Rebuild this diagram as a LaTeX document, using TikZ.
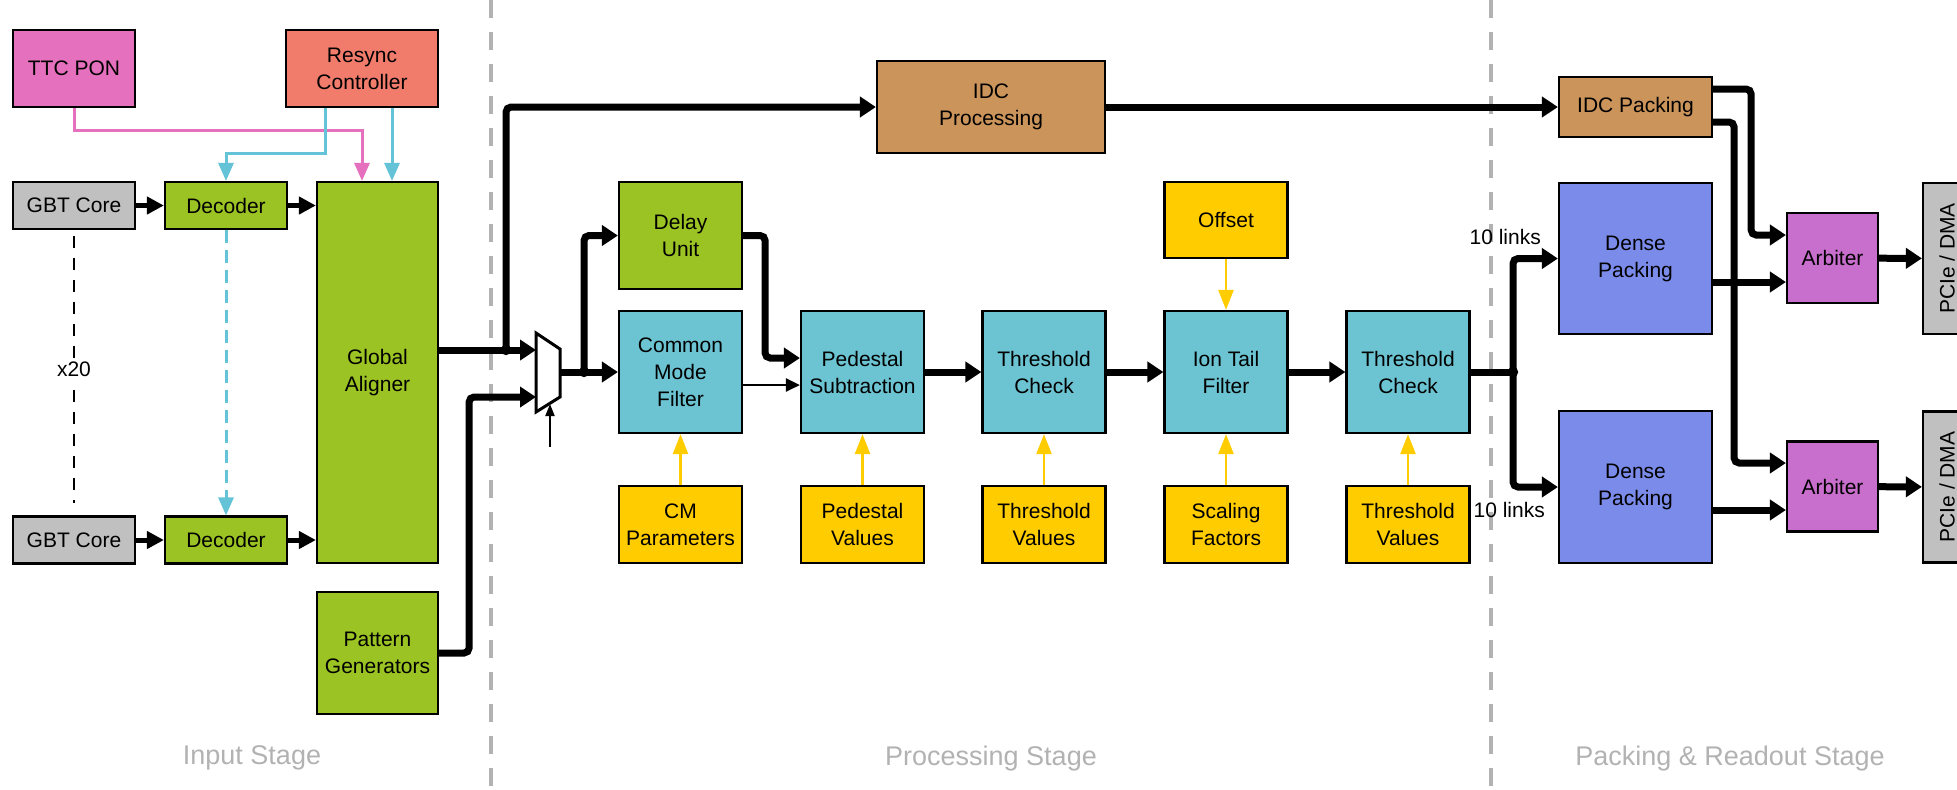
\documentclass[tikz,border=0pt]{standalone}
\usepackage{fontspec}
\setmainfont{Liberation Sans}
\usetikzlibrary{arrows.meta}
\usetikzlibrary{calc}

\definecolor{ttcpink}{RGB}{229,112,190}
\definecolor{syncred}{RGB}{242,124,108}
\definecolor{gbtgray}{RGB}{192,192,192}
\definecolor{fpgagreen}{RGB}{155,195,35}
\definecolor{proccyan}{RGB}{108,195,210}
\definecolor{idcbrown}{RGB}{203,148,90}
\definecolor{paryellow}{RGB}{255,204,0}
\definecolor{packblue}{RGB}{123,139,234}
\definecolor{arbviolet}{RGB}{200,110,205}
\definecolor{synccyan}{RGB}{100,195,215}
\definecolor{stagegray}{RGB}{178,178,178}

\newcommand{\boxfont}{\fontsize{10.5}{13.5}\selectfont}

\begin{document}
\begin{tikzpicture}[x=0.5pt,y=-0.5pt,
		blk/.style={draw=black, line width=1.1pt, inner sep=0pt, align=center, font=\boxfont},
		ttcbox/.style={blk, fill=ttcpink, minimum width=61pt, minimum height=38.5pt},
		syncbox/.style={blk, fill=syncred, minimum width=76pt, minimum height=38.5pt},
		gbtbox/.style={blk, fill=gbtgray, minimum width=61pt, minimum height=23.5pt},
		decbox/.style={blk, fill=fpgagreen, minimum width=61pt, minimum height=23.5pt},
		greenbox/.style={blk, fill=fpgagreen, minimum width=60.5pt},
		procbox/.style={blk, fill=proccyan, minimum width=61.5pt, minimum height=61pt},
		parbox/.style={blk, fill=paryellow, minimum width=61.5pt, minimum height=38.5pt},
		idcbox/.style={blk, fill=idcbrown},
		packbox/.style={blk, fill=packblue, minimum width=76.5pt, minimum height=76pt},
		arbbox/.style={blk, fill=arbviolet, minimum width=45.5pt, minimum height=45pt},
		pciebox/.style={blk, fill=gbtgray, minimum width=24pt, minimum height=75.5pt},
		bus/.style={line width=3.5pt, rounded corners=2.5pt, -{Triangle[length=8pt,width=10pt]}},
		link/.style={line width=2.5pt, -{Triangle[length=8.5pt,width=8.5pt]}},
		thinlink/.style={line width=1.25pt, -{Triangle[length=7pt,width=6.5pt]}},
		selarrow/.style={line width=1pt, -{Triangle[length=6pt,width=4.5pt]}},
		ttcline/.style={ttcpink, line width=1.5pt, -{Triangle[length=9pt,width=7.5pt]}},
		syncline/.style={synccyan, line width=1.5pt, -{Triangle[length=9pt,width=7.5pt]}},
		parline/.style={paryellow, line width=1.25pt, -{Triangle[length=10pt,width=7.5pt]}},
		sepline/.style={stagegray, line width=2pt, dash pattern=on 9pt off 7pt},
		stagelbl/.style={text=stagegray, font=\fontsize{13.5}{16}\selectfont},
		lbl/.style={font=\boxfont}
	]
	\useasboundingbox (0,0) rectangle (1957,789);

	% stage borders
	\draw[sepline] (491,0) -- (491,789);
	\draw[sepline] (1491,0) -- (1491,789);
	\node[stagelbl] (inlbl) at (252,758) {Input Stage};
	\node[stagelbl] (proclbl) at (991,758) {Processing Stage};
	\node[stagelbl] (packlbl) at (1730,758) {Packing \& Readout Stage};

	% input stage
	\node[ttcbox] (ttc) at (74,68.5) {TTC PON};
	\node[syncbox] (resync) at (362,68.5) {Resync\\Controller};
	\node[gbtbox] (gbtA) at (74,205.5) {GBT Core};
	\node[decbox] (decA) at (226,205.5) {Decoder};
	\node[gbtbox] (gbtB) at (74,540) {GBT Core};
	\node[decbox] (decB) at (226,540) {Decoder};
	\node[greenbox, minimum height=190.5pt] (aligner) at (377.5,372.5) {Global\\Aligner};
	\node[greenbox, minimum height=61pt] (patgen) at (377.5,653) {Pattern\\Generators};

	\draw[ttcline] (ttc.south) -- ++(0,-11pt) -| (resync.south |- aligner.north);
	\draw[syncline] ([xshift=-18.5pt]resync.south) -- ++(0,-22.5pt) -| (decA.north);
	\coordinate (syncB) at ([xshift=15pt]resync.south);
	\draw[syncline] (syncB) -- (syncB |- aligner.north);
	\draw[syncline, dash pattern=on 6.5pt off 3.5pt] (decA.south) -- (decB.north);
	\draw[line width=1pt, dash pattern=on 6pt off 5pt] ([yshift=-3pt]gbtA.south) -- node[lbl, fill=white, inner sep=2pt] (x20) {x20} ([yshift=6pt]gbtB.north);

	\draw[link] (gbtA) -- (decA);
	\draw[link] (gbtB) -- (decB);
	\draw[link] (decA.east) -- (decA.east -| aligner.west);
	\draw[link] (decB.east) -- (decB.east -| aligner.west);

	% multiplexer
	\coordinate (muxA) at (536,350);
	\coordinate (muxB) at (536,397);
	\coordinate (muxout) at (560,372);
	\coordinate (muxsel) at (550,404);
	\coordinate (selin) at (550,447);
	\coordinate (jA) at (506,350);
	\coordinate (jB) at (584,372);
	\draw[line width=1.5pt, line join=miter] (536,333) -- (560,349) -- (560,397) -- (536,412) -- cycle;
	\draw[selarrow] (selin) -- (muxsel);

	% processing stage
	\node[idcbox, minimum width=114pt, minimum height=46pt] (idcproc) at (991,107) {IDC\\Processing};
	\node[greenbox, minimum width=61.5pt, minimum height=53.5pt] (delay) at (680.5,235.5) {Delay\\Unit};
	\node[procbox] (cmf) at (680.5,372) {Common\\Mode\\Filter};
	\node[procbox] (ped) at (862.5,372) {Pedestal\\Subtraction};
	\node[procbox] (thrA) at (1044,372) {Threshold\\Check};
	\node[procbox] (itf) at (1226,372) {Ion Tail\\Filter};
	\node[procbox] (thrB) at (1408,372) {Threshold\\Check};
	\node[parbox, minimum height=38pt] (offset) at (1226,220) {Offset};
	\node[parbox] (cmpar) at (680.5,524.5) {CM\\Parameters};
	\node[parbox] (pedval) at (862.5,524.5) {Pedestal\\Values};
	\node[parbox] (thrvalA) at (1044,524.5) {Threshold\\Values};
	\node[parbox] (scal) at (1226,524.5) {Scaling\\Factors};
	\node[parbox] (thrvalB) at (1408,524.5) {Threshold\\Values};

	\draw[bus] (aligner.east |- muxA) -- (muxA);
	\draw[bus] (jA) |- (idcproc.west);
	\fill (jA) circle (2.6pt);
	\draw[bus] (patgen.east) -- ++(15pt,0) |- (muxB);
	\draw[bus] (muxout) -- (cmf.west);
	\draw[bus] (jB) |- (delay.west);
	\fill (jB) circle (2.6pt);
	\draw[bus] (delay.east) -- ++(11pt,0) |- ([yshift=7pt]ped.west);
	\draw[thinlink] ([yshift=-6.5pt]cmf.east) -- ([yshift=-6.5pt]ped.west);
	\foreach \a/\b in {ped/thrA, thrA/itf, itf/thrB}
		\draw[bus] (\a) -- (\b);
	\foreach \p/\b in {cmpar/cmf, pedval/ped, thrvalA/thrA, scal/itf, thrvalB/thrB}
		\draw[parline] (\p) -- (\b);
	\draw[parline] (offset) -- (itf);

	% packing & readout stage
	\node[idcbox, minimum width=76.5pt, minimum height=30pt] (idcpack) at (1635.5,107) {IDC Packing};
	\node[packbox, minimum height=75.5pt] (denseA) at (1635.5,258.5) {Dense\\Packing};
	\node[packbox] (denseB) at (1635.5,487) {Dense\\Packing};
	\node[arbbox] (arbA) at (1832.5,258) {Arbiter};
	\node[arbbox] (arbB) at (1832.5,486.5) {Arbiter};
	\node[pciebox] (pcieA) at (1947,258.5) {\rotatebox{90}{PCIe / DMA}};
	\node[pciebox] (pcieB) at (1947,487) {\rotatebox{90}{PCIe / DMA}};
	\node[lbl, anchor=east] (lnkA) at ([xshift=-5pt,yshift=10.75pt]denseA.west) {10 links};
	\node[lbl, anchor=east] (lnkB) at ([xshift=-3pt,yshift=-11.5pt]denseB.west) {10 links};

	\coordinate (lnk) at (1513,372);
	\draw[bus] (idcproc.east) -- (idcpack.west);
	\draw[bus, -] (thrB.east) -- (lnk);
	\draw[bus] (lnk) |- (denseA.west);
	\draw[bus] (lnk) |- (denseB.west);
	\fill (lnk) circle (2.6pt);

	\coordinate (arbA1) at ([yshift=11.5pt]arbA.west);
	\coordinate (arbA2) at ([yshift=-12pt]arbA.west);
	\coordinate (arbB1) at ([yshift=11.75pt]arbB.west);
	\coordinate (arbB2) at ([yshift=-11.75pt]arbB.west);
	\draw[bus] ([yshift=9pt]idcpack.east) -- ++(19pt,0) |- (arbA1);
	\draw[bus] ([yshift=-7.5pt]idcpack.east) -- ++(10.5pt,0) |- (arbB1);
	\draw[bus] (arbA2 -| denseA.east) -- (arbA2);
	\draw[bus] (arbB2 -| denseB.east) -- (arbB2);
	\draw[bus] (arbA) -- (pcieA);
	\draw[bus] (arbB) -- (pcieB);
\end{tikzpicture}
\end{document}
